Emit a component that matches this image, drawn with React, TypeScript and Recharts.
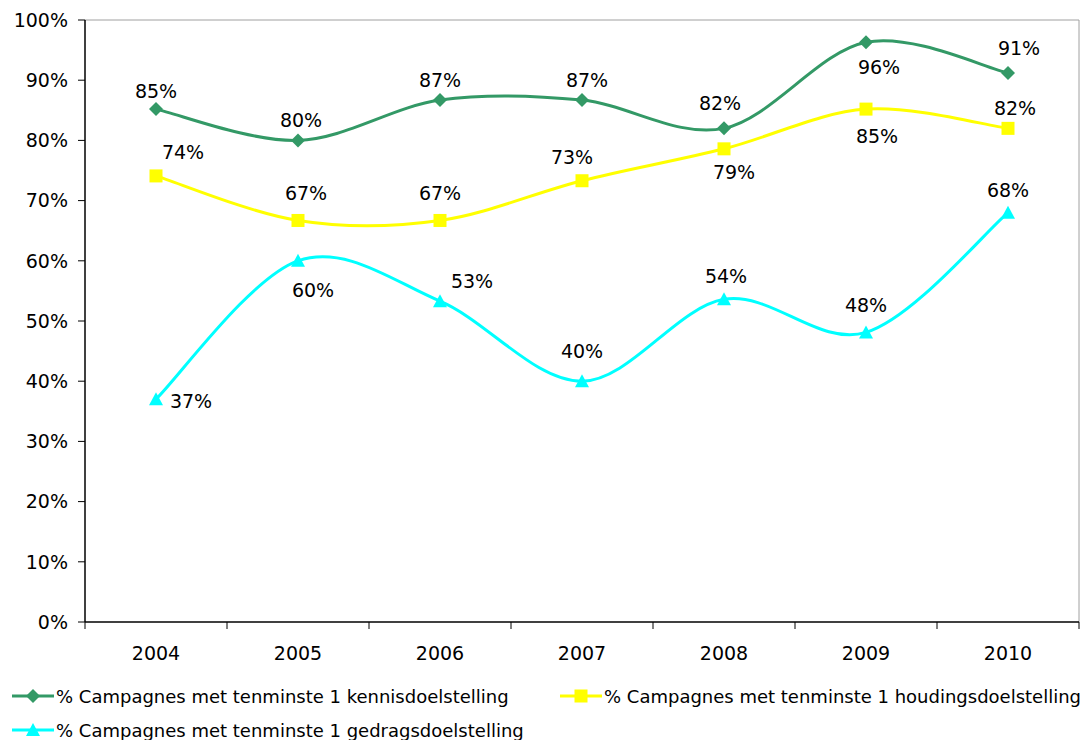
import React from 'react';
import {
  LineChart,
  Line,
  XAxis,
  YAxis,
  LabelList,
  Legend,
  ReferenceLine,
} from 'recharts';

document.body.style.margin = '0';

const years = [2004, 2005, 2006, 2007, 2008, 2009, 2010];
const kennis = [85.2, 80.0, 86.7, 86.7, 82.0, 96.3, 91.2];
const houding = [74.1, 66.7, 66.7, 73.3, 78.6, 85.2, 82.0];
const gedrag = [37.0, 60.0, 53.3, 40.0, 53.6, 48.1, 68.0];
const yTicks = [0, 10, 20, 30, 40, 50, 60, 70, 80, 90, 100];

const seriesNames = {
  kennis: '% Campagnes met tenminste 1 kennisdoelstelling',
  houding: '% Campagnes met tenminste 1 houdingsdoelstelling',
  gedrag: '% Campagnes met tenminste 1 gedragsdoelstelling',
};

// label placement (text centre relative to the point), like the Excel original
const kennisLabelOffsets = [[0, -18], [3, -20], [0, -20], [5, -20], [-4, -25], [13, 25], [11, -25]];
const houdingLabelOffsets = [[27, -24], [8, -27], [0, -27], [-10, -24], [10, 23], [11, 27], [7, -20]];
const gedragLabelOffsets = [[35, 2], [15, 29], [32, -20], [0, -30], [2, -23], [0, -27], [0, -23]];

const data = years.map((year, i) => ({
  year,
  kennis: kennis[i],
  houding: houding[i],
  gedrag: gedrag[i],
}));

const boundaries = [...years.map((y) => y - 0.5), years[years.length - 1] + 0.5];

const FONT = '"DejaVu Sans", Verdana, sans-serif';
const FONT_SIZE = 19;
const GREEN = '#339966';
const YELLOW = '#FFFF00';
const CYAN = '#00FFFF';

const WIDTH = 1082;
const HEIGHT = 740;
const Y_AXIS_W = 85;
const RIGHT = 3;
const HALF_BAND = (WIDTH - Y_AXIS_W - RIGHT) / years.length / 2;

// Excel-style smoothed line (Catmull-Rom bezier)
const excelCurve = (context: any) => {
  let pts: number[][] = [];
  return {
    areaStart() {},
    areaEnd() {},
    lineStart() {
      pts = [];
    },
    point(x: number, y: number) {
      pts.push([+x, +y]);
    },
    lineEnd() {
      if (!pts.length) return;
      context.moveTo(pts[0][0], pts[0][1]);
      for (let i = 0; i < pts.length - 1; i++) {
        const p0 = pts[i - 1] || pts[i];
        const p1 = pts[i];
        const p2 = pts[i + 1];
        const p3 = pts[i + 2] || p2;
        context.bezierCurveTo(
          p1[0] + (p2[0] - p0[0]) / 6,
          p1[1] + (p2[1] - p0[1]) / 6,
          p2[0] - (p3[0] - p1[0]) / 6,
          p2[1] - (p3[1] - p1[1]) / 6,
          p2[0],
          p2[1]
        );
      }
    },
  };
};

const Diamond = ({ cx, cy, fill }: any) => (
  <path d={`M${cx},${cy - 7}L${cx + 7},${cy}L${cx},${cy + 7}L${cx - 7},${cy}Z`} fill={fill} />
);
const Square = ({ cx, cy, fill }: any) => (
  <rect x={cx - 6.5} y={cy - 6.5} width={13} height={13} fill={fill} />
);
const Triangle = ({ cx, cy, fill }: any) => (
  <path d={`M${cx},${cy - 7}L${cx + 7},${cy + 6}L${cx - 7},${cy + 6}Z`} fill={fill} />
);

const makeDot = (Shape: any, fill: string) => (props: any) => {
  const { cx, cy, index } = props;
  if (cx == null || cy == null) return <g key={`d-${index}`} />;
  return <Shape key={`d-${index}`} cx={cx} cy={cy} fill={fill} />;
};

const makeLabel = (offsets: number[][]) => (props: any) => {
  const { x, y, value, index } = props;
  const [dx, dy] = offsets[index] || [0, -20];
  return (
    <text
      x={x + dx}
      y={y + dy}
      textAnchor="middle"
      dominantBaseline="central"
      fontFamily={FONT}
      fontSize={FONT_SIZE}
      fill="#000"
    >
      {`${Math.round(value)}%`}
    </text>
  );
};

const YearTick = (props: any) => {
  const { x, y, payload } = props;
  const year = payload.value + 0.5;
  if (year > years[years.length - 1]) return <g />;
  return (
    <text
      x={x + HALF_BAND}
      y={y + 24}
      textAnchor="middle"
      dominantBaseline="central"
      fontFamily={FONT}
      fontSize={FONT_SIZE}
      fill="#000"
    >
      {year}
    </text>
  );
};

const legendItems = [
  { key: 'kennis', color: GREEN, Shape: Diamond, width: 548 },
  { key: 'houding', color: YELLOW, Shape: Square, width: 520 },
  { key: 'gedrag', color: CYAN, Shape: Triangle, width: 548 },
];

const LegendContent = () => (
  <div
    style={{
      display: 'flex',
      flexWrap: 'wrap',
      boxSizing: 'border-box',
      width: WIDTH,
      paddingTop: 15,
      paddingLeft: 12,
      fontFamily: FONT,
      fontSize: 18,
      color: '#000',
    }}
  >
    {legendItems.map(({ key, color, Shape, width }) => (
      <div
        key={key}
        style={{ width, flex: 'none', height: 34, display: 'flex', alignItems: 'center' }}
      >
        <svg width={42} height={16} style={{ marginRight: 2, flex: 'none' }}>
          <line x1={0} y1={8} x2={42} y2={8} stroke={color} strokeWidth={3} />
          <Shape cx={21} cy={8} fill={color} />
        </svg>
        <span style={{ whiteSpace: 'nowrap' }}>{(seriesNames as any)[key]}</span>
      </div>
    ))}
  </div>
);

export default function App() {
  return (
    <div style={{ width: WIDTH, height: HEIGHT, overflow: 'hidden' }}>
      <LineChart
        width={WIDTH}
        height={HEIGHT}
        data={data}
        margin={{ top: 20, right: RIGHT, bottom: 0, left: 0 }}
      >
        <XAxis
          dataKey="year"
          type="number"
          domain={[boundaries[0], boundaries[boundaries.length - 1]]}
          ticks={boundaries}
          interval={0}
          tick={<YearTick />}
          tickSize={7}
          tickMargin={0}
          height={42}
          axisLine={{ stroke: '#000', strokeWidth: 1.5 }}
          tickLine={{ stroke: '#000' }}
        />
        <YAxis
          type="number"
          domain={[0, 100]}
          ticks={yTicks}
          interval={0}
          width={Y_AXIS_W}
          tickFormatter={(v: number) => `${v}%`}
          tick={{ fontFamily: FONT, fontSize: FONT_SIZE, fill: '#000' }}
          tickSize={7}
          tickMargin={10}
          axisLine={{ stroke: '#000', strokeWidth: 1.5 }}
          tickLine={{ stroke: '#000' }}
        />
        <ReferenceLine y={100} stroke="#a0a0a0" strokeWidth={1} />
        <ReferenceLine x={boundaries[boundaries.length - 1]} stroke="#a0a0a0" strokeWidth={1} />
        <Legend
          verticalAlign="bottom"
          align="left"
          content={<LegendContent />}
          wrapperStyle={{ height: 76, width: WIDTH, left: 0 }}
        />
        <Line
          dataKey="kennis"
          name={seriesNames.kennis}
          type={excelCurve as any}
          stroke={GREEN}
          strokeWidth={3}
          dot={makeDot(Diamond, GREEN)}
          activeDot={false}
          isAnimationActive={false}
        >
          <LabelList dataKey="kennis" content={makeLabel(kennisLabelOffsets)} />
        </Line>
        <Line
          dataKey="houding"
          name={seriesNames.houding}
          type={excelCurve as any}
          stroke={YELLOW}
          strokeWidth={3}
          dot={makeDot(Square, YELLOW)}
          activeDot={false}
          isAnimationActive={false}
        >
          <LabelList dataKey="houding" content={makeLabel(houdingLabelOffsets)} />
        </Line>
        <Line
          dataKey="gedrag"
          name={seriesNames.gedrag}
          type={excelCurve as any}
          stroke={CYAN}
          strokeWidth={3}
          dot={makeDot(Triangle, CYAN)}
          activeDot={false}
          isAnimationActive={false}
        >
          <LabelList dataKey="gedrag" content={makeLabel(gedragLabelOffsets)} />
        </Line>
      </LineChart>
    </div>
  );
}
